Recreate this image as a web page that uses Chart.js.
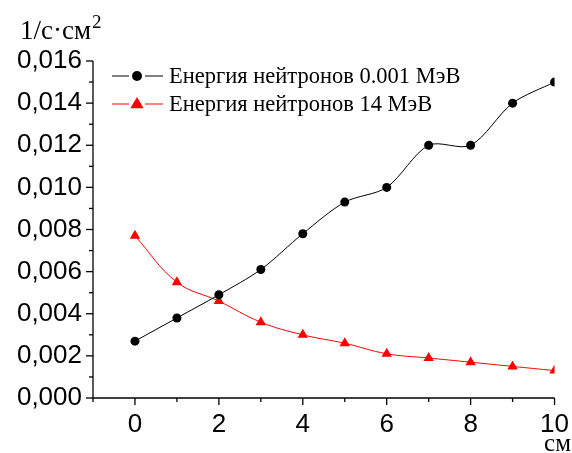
<!DOCTYPE html>
<html>
<head>
<meta charset="utf-8">
<script src="https://cdn.jsdelivr.net/npm/chart.js@4.4.0/dist/chart.umd.min.js"></script>
<style>
  html, body { margin: 0; padding: 0; background: #fff; }
  #wrap { width: 572px; height: 453px; }
</style>
</head>
<body>
<div id="wrap"><canvas id="c" width="572" height="453"></canvas></div>
<script>
const xValues = [0, 1, 2, 3, 4, 5, 6, 7, 8, 9, 10];
const lowEnergy = [0.0027, 0.0038, 0.0049, 0.0061, 0.0078, 0.0093, 0.0100, 0.0120, 0.0120, 0.0140, 0.0150];
const highEnergy = [0.0077, 0.0055, 0.0046, 0.0036, 0.0030, 0.0026, 0.0021, 0.0019, 0.0017, 0.0015, 0.0013];
const seriesLabels = ['Енергия нейтронов 0.001 МэВ', 'Енергия нейтронов 14 МэВ'];
const yTitle = '1/с·см';
const yTitleSup = '2';
const xTitle = 'см';

const toPoints = (ys) => xValues.map((x, i) => ({ x: x, y: ys[i] }));

const axisPlugin = {
  id: 'axisDecor',
  afterDraw(chart) {
    const ctx = chart.ctx;
    const xs = chart.scales.x, ys = chart.scales.y;
    const a = chart.chartArea;
    ctx.save();
    ctx.strokeStyle = '#000';
    ctx.lineWidth = 1.3;
    ctx.beginPath();
    ctx.moveTo(a.left, a.top);
    ctx.lineTo(a.left, a.bottom);
    ctx.lineTo(a.right, a.bottom);
    ctx.stroke();
    xs.ticks.forEach(t => {
      const px = xs.getPixelForValue(t.value);
      const major = Math.round(t.value) % 2 === 0;
      ctx.beginPath();
      ctx.moveTo(px, a.bottom);
      ctx.lineTo(px, a.bottom + (major ? 7 : 4));
      ctx.stroke();
    });
    ys.ticks.forEach(t => {
      const py = ys.getPixelForValue(t.value);
      const major = Math.round(t.value * 1000) % 2 === 0;
      ctx.beginPath();
      ctx.moveTo(a.left, py);
      ctx.lineTo(a.left - (major ? 7 : 4), py);
      ctx.stroke();
    });
    ctx.fillStyle = '#000';
    ctx.textBaseline = 'alphabetic';
    ctx.textAlign = 'left';
    ctx.font = '27px "Liberation Serif", "Times New Roman", serif';
    ctx.fillText(yTitle, 20, 39);
    const w = ctx.measureText(yTitle).width;
    ctx.font = '19px "Liberation Serif", "Times New Roman", serif';
    ctx.fillText(yTitleSup, 20 + w + 1, 28);
    ctx.font = '25px "Liberation Serif", "Times New Roman", serif';
    ctx.textAlign = 'right';
    ctx.fillText(xTitle, 571, 451);

    const rows = [76, 104];
    chart.data.datasets.forEach((ds, i) => {
      const y = rows[i];
      ctx.strokeStyle = ds.borderColor;
      ctx.lineWidth = 1;
      ctx.beginPath();
      ctx.moveTo(112, y); ctx.lineTo(129, y);
      ctx.moveTo(145, y); ctx.lineTo(163, y);
      ctx.stroke();
      ctx.fillStyle = ds.pointBackgroundColor;
      ctx.beginPath();
      if (ds.pointStyle === 'triangle') {
        const r = 7;
        ctx.moveTo(137, y - r);
        ctx.lineTo(137 + r * 0.95, y + r * 0.6);
        ctx.lineTo(137 - r * 0.95, y + r * 0.6);
        ctx.closePath();
      } else {
        ctx.arc(137, y, 5, 0, Math.PI * 2);
      }
      ctx.fill();
      ctx.fillStyle = '#000';
      ctx.textAlign = 'left';
      ctx.textBaseline = 'middle';
      ctx.font = '22.5px "Liberation Serif", "Times New Roman", serif';
      ctx.fillText(ds.label, 169, y + 1);
    });
    ctx.restore();
  }
};

new Chart(document.getElementById('c'), {
  type: 'scatter',
  data: {
    datasets: [
      {
        label: seriesLabels[0],
        data: toPoints(lowEnergy),
        showLine: true,
        tension: 0.3,
        borderColor: '#000000',
        borderWidth: 1,
        pointBackgroundColor: '#000000',
        pointBorderColor: '#000000',
        pointStyle: 'circle',
        pointRadius: 4.5,
        pointBorderWidth: 0
      },
      {
        label: seriesLabels[1],
        data: toPoints(highEnergy),
        showLine: true,
        tension: 0.4,
        borderColor: '#ff0000',
        borderWidth: 1,
        pointBackgroundColor: '#ff0000',
        pointBorderColor: '#ff0000',
        pointStyle: 'triangle',
        pointRadius: 6,
        pointBorderWidth: 0
      }
    ]
  },
  options: {
    responsive: false,
    animation: false,
    layout: { padding: { left: 0, top: 61, right: 14, bottom: 0 } },
    plugins: { legend: { display: false }, tooltip: { enabled: false } },
    scales: {
      x: {
        type: 'linear',
        min: -1, max: 10,
        afterFit(s) { s.height = 55; },
        grid: { display: false },
        border: { display: false },
        ticks: {
          stepSize: 1,
          padding: 3,
          color: '#000',
          font: { family: '"Liberation Sans", Arial, sans-serif', size: 26 },
          autoSkip: false,
          maxRotation: 0,
          callback: (v) => (Math.round(v) % 2 === 0 ? String(v) : '')
        }
      },
      y: {
        type: 'linear',
        min: 0, max: 0.016,
        afterFit(s) { s.width = 93; },
        grid: { display: false },
        border: { display: false },
        ticks: {
          stepSize: 0.001,
          padding: 3,
          color: '#000',
          font: { family: '"Liberation Sans", Arial, sans-serif', size: 26 },
          autoSkip: false,
          callback: (v) => (Math.round(v * 1000) % 2 === 0 ? v.toFixed(3).replace('.', ',') : '')
        }
      }
    }
  },
  plugins: [axisPlugin]
});
</script>
</body>
</html>
